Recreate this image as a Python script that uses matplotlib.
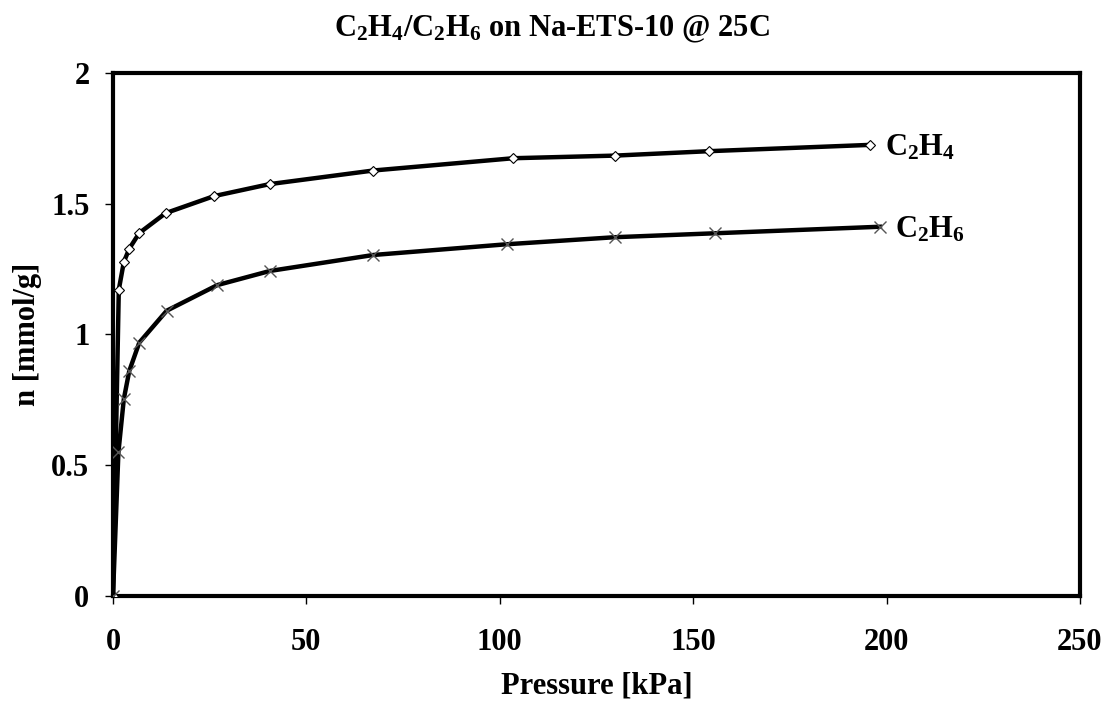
import matplotlib.pyplot as plt

plt.rcParams['font.family'] = 'Liberation Serif'
plt.rcParams['font.weight'] = 'bold'
plt.rcParams['mathtext.fontset'] = 'custom'
plt.rcParams['mathtext.rm'] = 'Liberation Serif:bold'
plt.rcParams['mathtext.bf'] = 'Liberation Serif:bold'

# C2H4 isotherm (diamonds)
p_c2h4 = [0, 1.5, 2.8, 4.2, 6.8, 13.6, 26.1, 40.5, 67.3, 103.5, 129.8, 154.2, 195.7]
n_c2h4 = [0, 1.171, 1.277, 1.328, 1.388, 1.464, 1.529, 1.575, 1.627, 1.674, 1.684, 1.701, 1.725]

# C2H6 isotherm (crosses)
p_c2h6 = [0, 1.4, 2.8, 4.2, 6.8, 13.9, 27.0, 40.6, 67.3, 101.8, 129.8, 155.6, 198.3]
n_c2h6 = [0, 0.549, 0.753, 0.860, 0.969, 1.091, 1.189, 1.243, 1.304, 1.345, 1.372, 1.387, 1.412]

xticks = [0, 50, 100, 150, 200, 250]
yticks = [0, 0.5, 1, 1.5, 2]

fig = plt.figure(figsize=(11.11, 7.05), dpi=100)
ax = fig.add_axes([0.1017, 0.1546, 0.8703, 0.7419])

ax.plot(p_c2h4, n_c2h4, color='black', lw=3.2, marker='D', ms=5.5,
        mfc='white', mec='black', mew=0.8, zorder=3)
ax.plot(p_c2h6, n_c2h6, color='black', lw=3.2, marker='x', ms=8,
        mec='#555555', mew=1.0, zorder=3)

ax.set_xlim(0, 250)
ax.set_ylim(0, 2)
ax.set_xticks(xticks)
ax.set_xticklabels([str(t) for t in xticks])
ax.set_yticks(yticks)
ax.set_yticklabels(['0', '0.5', '1', '1.5', '2'])
ax.tick_params(direction='out', length=6, width=1, labelsize=22)
ax.tick_params(axis='x', pad=17)
ax.tick_params(axis='y', pad=11)
for s in ax.spines.values():
    s.set_linewidth(3)

ax.text(p_c2h4[-1] + 4, n_c2h4[-1] - 0.01, r'$\mathbf{C_2H_4}$', fontsize=22,
        va='center', ha='left')
ax.text(p_c2h6[-1] + 4, n_c2h6[-1] - 0.01, r'$\mathbf{C_2H_6}$', fontsize=22,
        va='center', ha='left')

ax.set_xlabel('Pressure [kPa]', fontsize=22, fontweight='bold', va='center')
ax.xaxis.set_label_coords(0.5, -0.172)
ax.set_ylabel('n [mmol/g]', fontsize=22, fontweight='bold', va='center')
ax.yaxis.set_label_coords(-0.088, 0.5)
fig.text(0.497, 0.958, r'$\mathbf{C_2H_4/C_2H_6}$ on Na-ETS-10 @ 25C',
         fontsize=22, fontweight='bold', ha='center', va='center')

fig.savefig('out.png', dpi=100, facecolor='white')
